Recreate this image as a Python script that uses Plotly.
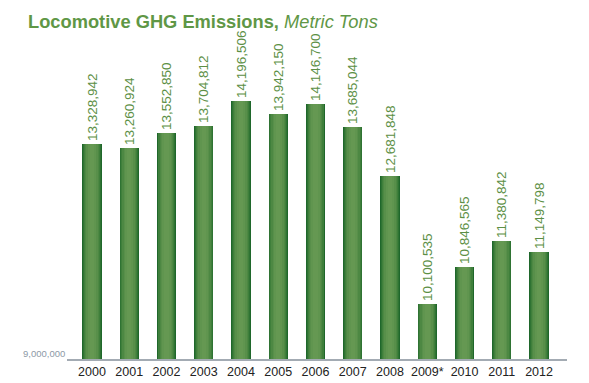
import plotly.graph_objects as go

years = ["2000", "2001", "2002", "2003", "2004", "2005", "2006",
         "2007", "2008", "2009*", "2010", "2011", "2012"]
emissions = [13328942, 13260924, 13552850, 13704812, 14196506, 13942150,
             14146700, 13685044, 12681848, 10100535, 10846565, 11380842, 11149798]
value_labels = [f"{v:,}" for v in emissions]
baseline_value = 9000000
baseline_label = "9,000,000"

title_main = "Locomotive GHG Emissions,"
title_unit = "Metric Tons"

W, H = 589, 383
LEFT, RIGHT, TOP, BOTTOM = 67, 22, 40, 24
PX_PER_UNIT = 49.6 / 1_000_000
plot_h = H - TOP - BOTTOM
y_top = baseline_value + plot_h / PX_PER_UNIT

sans = "Liberation Sans, Arial, sans-serif"

# simulate cylindrical gradient with stacked overlay bars
layers = [
    (0.52, "#1f672b"),
    (0.48, "#2f7333"),
    (0.43, "#3f7f3b"),
    (0.37, "#4d8843"),
    (0.30, "#588f4a"),
    (0.22, "#60954f"),
    (0.12, "#659852"),
]

fig = go.Figure()
for i, (w, c) in enumerate(layers):
    first = i == 0
    fig.add_trace(go.Bar(
        x=years,
        y=[v - baseline_value for v in emissions],
        base=baseline_value,
        width=w,
        marker=dict(color=c, line=dict(width=0)),
        text=value_labels if first else None,
        textposition="outside" if first else "none",
        textangle=-90,
        constraintext="none",
        cliponaxis=False,
        textfont=dict(family=sans, size=13.5, color="#5c8f45"),
        hoverinfo="skip",
        showlegend=False,
    ))

fig.update_layout(
    width=W, height=H,
    margin=dict(l=LEFT, r=RIGHT, t=TOP, b=BOTTOM, autoexpand=False),
    paper_bgcolor="white", plot_bgcolor="white",
    barmode="overlay",
    bargap=0,
    title=dict(
        text=f"<b>{title_main}</b> <i>{title_unit}</i>",
        x=28 / W, xref="container", xanchor="left",
        y=1 - 22 / H, yref="container", yanchor="middle",
        font=dict(family=sans, size=18.3, color="#5f9746"),
    ),
    xaxis=dict(
        type="category",
        range=[-0.67, 12.75],
        showline=True, linecolor="#a3abb3", linewidth=2,
        ticks="", showgrid=False, zeroline=False,
        tickfont=dict(family=sans, size=12.5, color="#222222"),
    ),
    yaxis=dict(
        range=[baseline_value, y_top],
        showticklabels=False, showgrid=False, zeroline=False, showline=False,
    ),
    annotations=[dict(
        x=0, xref="paper", y=baseline_value, yref="y",
        xanchor="right", yanchor="bottom", xshift=0, yshift=-2,
        text=baseline_label, showarrow=False,
        font=dict(family=sans, size=9.5, color="#8d99a6"),
    )],
)

fig.write_html(
    "out.html",
    config={"displayModeBar": False},
    post_script="document.body.style.margin='0px';document.body.style.padding='0px';",
)
